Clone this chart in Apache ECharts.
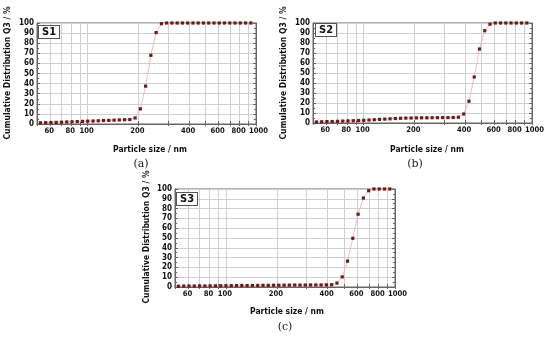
<!DOCTYPE html>
<html>
<head>
<meta charset="utf-8">
<script src="https://cdn.jsdelivr.net/npm/echarts@6/dist/echarts.min.js"></script>
<style>
html,body{margin:0;padding:0;background:#fff;}
#chart{width:550px;height:337px;}
</style>
</head>
<body>
<div id="chart"></div>
<script>
const sizes = [52.4, 56.3, 60.5, 65.0, 69.9, 75.1, 80.7, 86.7, 93.2, 100.1,
  107.6, 115.6, 124.2, 133.5, 143.5, 154.2, 165.7, 178.0, 191.3, 205.6,
  220.9, 237.4, 255.1, 274.2, 294.6, 316.6, 340.2, 365.6, 392.9, 422.2,
  453.7, 487.5, 523.9, 563.0, 605.0, 650.1, 698.6, 750.7, 806.7, 866.9, 931.6];

// Cumulative distribution Q3 (%)
const s1 = [1.2, 1.3, 1.5, 1.6, 1.8, 2.0, 2.2, 2.4, 2.6, 2.8,
  3.0, 3.2, 3.4, 3.6, 3.8, 4.0, 4.2, 4.4, 6.0, 15.0,
  37.5, 68.0, 90.5, 99.3, 100, 100, 100, 100, 100, 100,
  100, 100, 100, 100, 100, 100, 100, 100, 100, 100, 100];
const s2 = [1.0, 1.2, 1.4, 1.5, 1.7, 1.9, 2.1, 2.3, 2.5, 2.7,
  3.0, 3.3, 3.6, 3.9, 4.2, 4.5, 4.7, 4.9, 5.0, 5.1,
  5.2, 5.2, 5.3, 5.3, 5.4, 5.4, 5.5, 5.8, 9.0, 21.8,
  46.0, 74.0, 92.3, 98.8, 100, 100, 100, 100, 100, 100, 100];
const s3 = [0.8, 0.9, 1.0, 1.0, 1.1, 1.1, 1.2, 1.2, 1.3, 1.3,
  1.4, 1.4, 1.5, 1.5, 1.6, 1.6, 1.7, 1.7, 1.8, 1.8,
  1.9, 1.9, 2.0, 2.0, 2.0, 2.1, 2.1, 2.1, 2.2, 2.3,
  4.0, 10.3, 26.4, 49.7, 74.3, 90.8, 98.3, 100, 100, 100, 100];

const sampleNames = ['S1', 'S2', 'S3'];
const captions = ['(a)', '(b)', '(c)'];
const xTickLabels = [60, 80, 100, 200, 400, 600, 800];
const xEndLabel = [999.999];   // the "1000" label at the right end of the axis
const xGridValues = [50, 60, 70, 80, 90, 100, 200, 300, 400, 500, 600, 700, 800, 900, 999.999];
const yName = 'Cumulative Distribution Q3 / %';
const xName = 'Particle size / nm';

const panels = [
  {grid: {left: 37, top: 23, width: 219, height: 101}, yName: [8, 73], xName: [150, 150], cap: [141, 164], tag: [39, 26]},
  {grid: {left: 313, top: 23, width: 219, height: 100}, yName: [284, 73], xName: [427, 150], cap: [415, 164], tag: [316, 24]},
  {grid: {left: 175, top: 189, width: 220, height: 98}, yName: [147, 237], xName: [287, 312], cap: [285, 327], tag: [177, 193]}
];
const seriesData = [s1, s2, s3];

const FONT = '"DejaVu Sans Condensed", "DejaVu Sans", sans-serif';
const labelStyle = {fontFamily: FONT, fontWeight: 'bold', fontSize: 8, color: '#111'};
const xLabelStyle = {fontFamily: FONT, fontWeight: 'bold', fontSize: 7.6, color: '#111'};
const grids = [], xAxes = [], yAxes = [], series = [], graphics = [];

panels.forEach((p, i) => {
  grids.push(Object.assign({show: true, borderColor: '#666', borderWidth: 1, backgroundColor: '#fff'}, p.grid));
  xAxes.push({
    type: 'log', logBase: 10, min: 50, max: 1000, gridIndex: i, position: 'bottom',
    axisLine: {show: true, lineStyle: {color: '#666', width: 1}},
    axisTick: {show: true, inside: true, length: 3, customValues: xGridValues, lineStyle: {color: '#666'}},
    axisLabel: Object.assign({show: true, margin: 3, customValues: xTickLabels,
      showMinLabel: true, showMaxLabel: true, hideOverlap: false, padding: [0, 2, 0, 0],
      formatter: v => String(Math.round(v))}, xLabelStyle),
    splitLine: {show: true, lineStyle: {color: '#d0d0d0', width: 1}}
  });
  xAxes.push({
    type: 'log', logBase: 10, min: 50, max: 1000, gridIndex: i, position: 'top',
    axisLine: {show: true, lineStyle: {color: '#666', width: 1}},
    axisTick: {show: true, inside: true, length: 2, customValues: xGridValues, lineStyle: {color: '#666'}},
    axisLabel: {show: false},
    splitLine: {show: false}
  });
  xAxes.push({
    type: 'log', logBase: 10, min: 50, max: 1000, gridIndex: i, position: 'bottom',
    axisLine: {show: false}, axisTick: {show: false}, splitLine: {show: false},
    axisLabel: Object.assign({show: true, margin: 3, customValues: xEndLabel,
      showMinLabel: true, showMaxLabel: true, padding: [0, 0, 0, 5],
      formatter: v => String(Math.round(v))}, xLabelStyle)
  });
  yAxes.push({
    type: 'value', min: 0, max: 100, interval: 10, gridIndex: i, position: 'left',
    axisLine: {show: true, lineStyle: {color: '#666', width: 1}},
    axisTick: {show: true, inside: true, length: 3, lineStyle: {color: '#666'}},
    minorTick: {show: true, splitNumber: 2, length: 2, lineStyle: {color: '#666'}},
    axisLabel: Object.assign({margin: 3, showMinLabel: true, showMaxLabel: true}, labelStyle),
    splitLine: {show: true, lineStyle: {color: '#d0d0d0', width: 1}}
  });
  yAxes.push({
    type: 'value', min: 0, max: 100, interval: 10, gridIndex: i, position: 'right',
    axisLine: {show: true, lineStyle: {color: '#666', width: 1}},
    axisTick: {show: true, inside: true, length: 3, lineStyle: {color: '#666'}},
    minorTick: {show: true, splitNumber: 2, length: 2, lineStyle: {color: '#666'}},
    axisLabel: {show: false},
    splitLine: {show: false}
  });
  series.push({
    type: 'line', xAxisIndex: 3 * i, yAxisIndex: 2 * i,
    data: sizes.map((s, k) => [s, seriesData[i][k]]),
    symbol: 'rect', symbolSize: 3.2, showSymbol: true,
    itemStyle: {color: '#6a1b1b'},
    lineStyle: {color: '#f2a9a9', width: 0.8},
    animation: false, z: 5
  });
  graphics.push({
    type: 'text', x: p.yName[0], y: p.yName[1], rotation: Math.PI / 2,
    style: {text: yName, align: 'center', verticalAlign: 'middle', font: 'bold 8.5px ' + FONT, fill: '#111'}
  });
  graphics.push({
    type: 'text', x: p.xName[0], y: p.xName[1],
    style: {text: xName, align: 'center', verticalAlign: 'middle', font: 'bold 8.5px ' + FONT, fill: '#111'}
  });
  graphics.push({
    type: 'text', x: p.cap[0], y: p.cap[1],
    style: {text: captions[i], align: 'center', verticalAlign: 'middle', font: '11px "DejaVu Serif", serif', fill: '#222'}
  });
  graphics.push({
    type: 'text', x: p.tag[0], y: p.tag[1], z: 100,
    style: {text: sampleNames[i], align: 'left', verticalAlign: 'top', font: 'bold 11px ' + FONT, fill: '#111',
      backgroundColor: '#fff', borderColor: '#555', borderWidth: 1, padding: [1, 3, 0, 3]}
  });
});

const chart = echarts.init(document.getElementById('chart'), null, {renderer: 'canvas'});
chart.setOption({
  animation: false,
  backgroundColor: '#fff',
  grid: grids, xAxis: xAxes, yAxis: yAxes, series: series, graphic: graphics
});
</script>
</body>
</html>
